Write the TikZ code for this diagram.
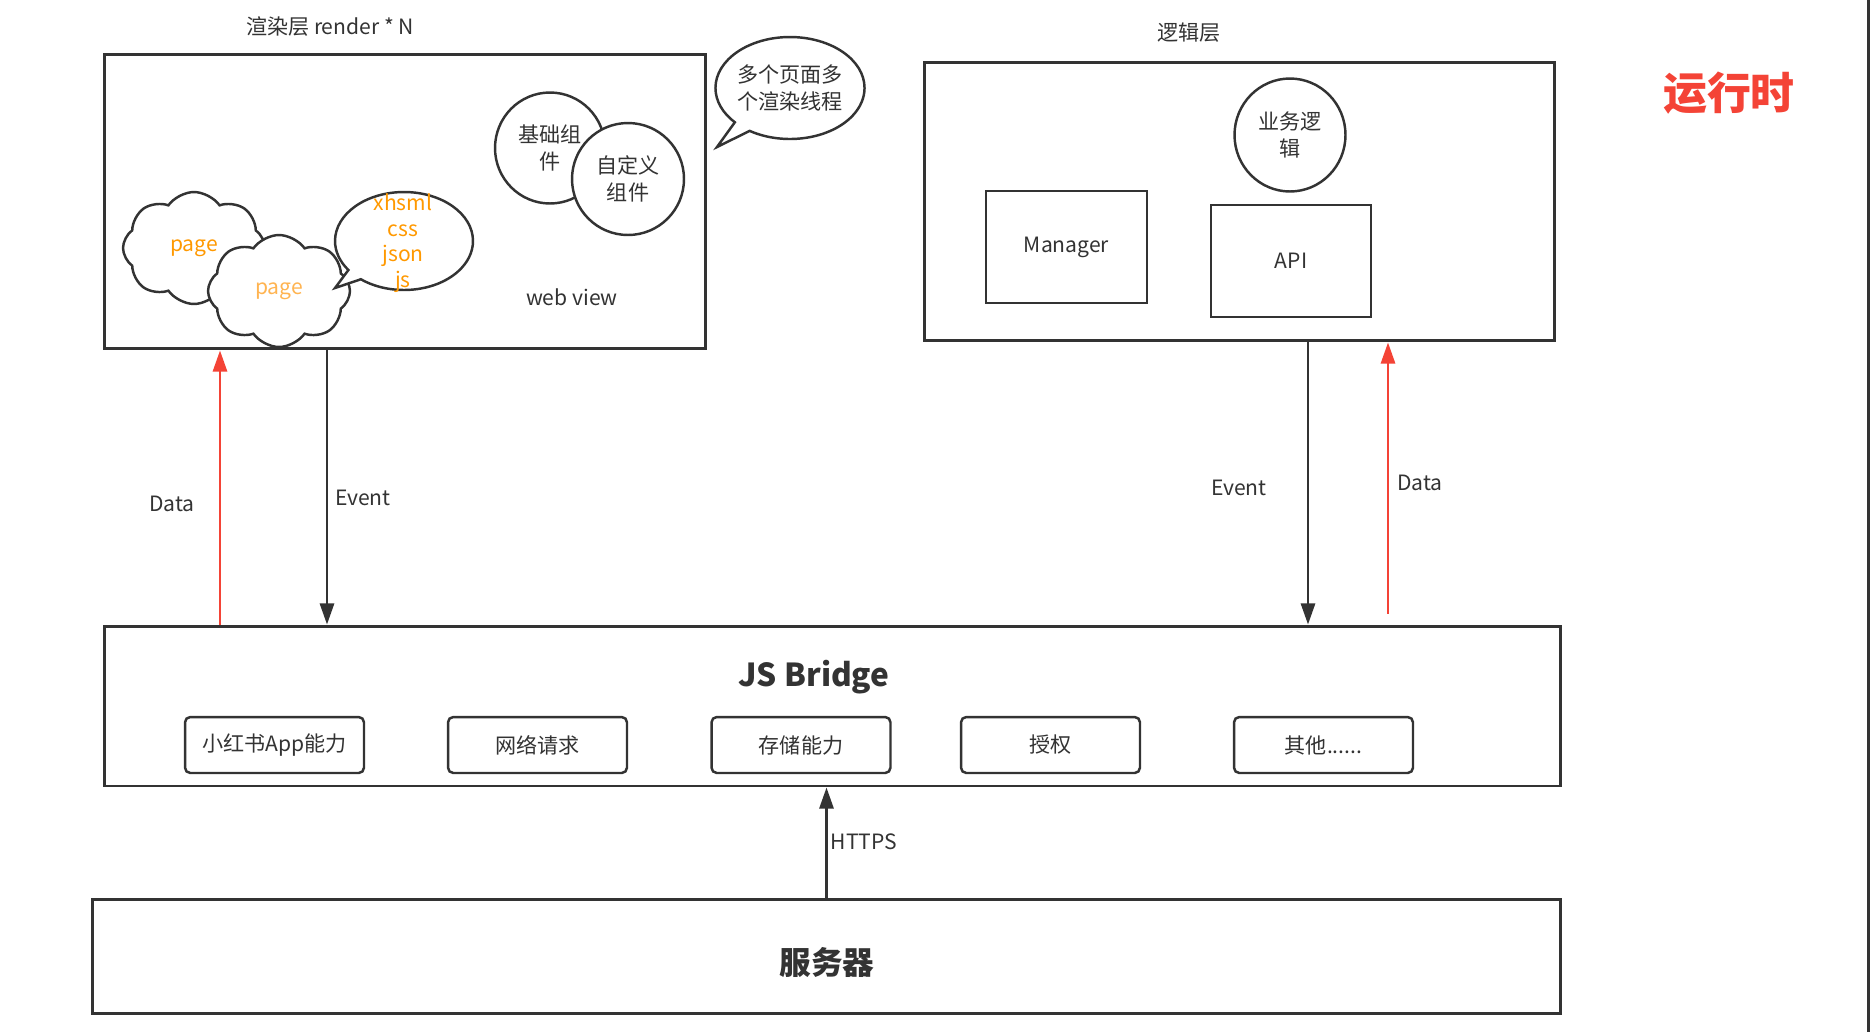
\documentclass[tikz,border=0pt]{standalone}
\usepackage{fontspec}
\setmainfont{Noto Sans CJK SC}
\usetikzlibrary{arrows.meta,shapes.geometric,shapes.symbols,shapes.callouts}
\definecolor{ink}{HTML}{333333}
\definecolor{datared}{HTML}{F44336}
\definecolor{pageorange}{HTML}{FF9900}
\definecolor{pagelight}{HTML}{FFB451}
\tikzset{
  layer/.style={draw=ink, line width=1.7pt, inner sep=0pt},
  ability/.style={draw=ink, line width=1.4pt, rounded corners=3pt,
    minimum width=3.58cm, minimum height=1.12cm},
  bubble/.style={ellipse, draw=ink, line width=1.4pt, fill=white,
    inner sep=0pt, align=center},
  pagecloud/.style={cloud, cloud puffs=8, cloud puff arc=110, draw=ink, line width=1.4pt,
    fill=white, inner sep=0pt, minimum width=2.84cm, minimum height=2.24cm},
  eventflow/.style={->, draw=ink, line width=1.5pt},
  dataflow/.style={->, draw=datared, line width=1.5pt},
}
\begin{document}
\begin{tikzpicture}[x=0.02cm, y=-0.02cm, >={Triangle[length=12pt,width=8pt]},
    font=\fontsize{12}{15.6}\selectfont, text=ink]
  \useasboundingbox (0,0) rectangle (1872,1032);
  \fill[white] (0,0) rectangle (1872,1032);
  \draw[ink, line width=1.7pt] (1868,0) -- (1868,1032);

  \node[layer, minimum width=12.04cm, minimum height=5.9cm] (render) at (405,201.5) {};
  \node[layer, minimum width=12.62cm, minimum height=5.58cm] (logic) at (1239.5,201.5) {};
  \node[layer, minimum width=29.14cm, minimum height=3.2cm] (bridge) at (832.5,706) {};
  \node[layer, minimum width=29.38cm, minimum height=2.28cm] (server) at (826.5,956) {};

  \node (renderTitle) at (330,27) {渲染层 render * N};
  \node (logicTitle) at (1189,33) {逻辑层};
  \node[text=datared, font=\fontsize{25}{30}\selectfont\bfseries] (runtime) at (1729,93) {运行时};

  \node[pagecloud, text=pageorange] (page1) at (194,248) {page};
  \node[pagecloud, text=pagelight] (page2) at (279,291) {page};
  \node[ellipse callout, draw=ink, line width=1.4pt, fill=white, inner sep=0pt,
    minimum width=2.76cm, minimum height=1.96cm,
    callout absolute pointer={(335,288)}] (files) at (404,241) {};
  \node[text=pageorange, align=center, font=\fontsize{12}{14.6}\selectfont] (filesText) at (403,243)
    {xhsml\\css\\json\\js};

  \node[bubble, minimum width=2.2cm, minimum height=2.22cm] (basic) at (550,148) {基础组\\件};
  \node[bubble, minimum width=2.24cm, minimum height=2.24cm] (custom) at (628,179) {自定义\\组件};
  \node (webview) at (572,297) {web view};

  \node[ellipse callout, draw=ink, line width=1.4pt, fill=white, inner sep=0pt,
    align=center, minimum width=2.84cm, minimum height=2.04cm,
    callout absolute pointer={(717,147)}] (threads) at (790,88) {多个页面多\\个渲染线程};

  \node[bubble, minimum width=2.22cm, minimum height=2.26cm] (service) at (1290,135) {业务逻\\辑};
  \node[layer, line width=1.4pt, minimum width=3.22cm, minimum height=2.24cm] (manager) at (1066.5,247) {Manager};
  \node[layer, line width=1.4pt, minimum width=3.2cm, minimum height=2.24cm] (api) at (1291,261) {API};

  \node[font=\fontsize{18}{22}\selectfont\bfseries] (bridgeTitle) at (814,677) {JS Bridge};
  \node[ability] (appAbility) at (274.5,745) {小红书App能力};
  \node[ability] (network) at (537.5,745) {网络请求};
  \node[ability] (storage) at (801,745) {存储能力};
  \node[ability] (auth) at (1050.5,745) {授权};
  \node[ability] (others) at (1323.5,745) {其他......};

  \node[font=\fontsize{18}{22}\selectfont\bfseries] (serverTitle) at (827,962) {服务器};

  \coordinate (dataL) at (220,0);
  \coordinate (eventL) at (327,0);
  \coordinate (eventR) at (1308,0);
  \coordinate (dataR) at (1388,0);

  \draw[dataflow] (bridge.north -| dataL) -- (render.south -| dataL);
  \draw[eventflow] (render.south -| eventL) -- (bridge.north -| eventL);
  \draw[eventflow] (logic.south -| eventR) -- (bridge.north -| eventR);
  \draw[dataflow, shorten <=6pt] (bridge.north -| dataR) -- (logic.south -| dataR);
  \draw[eventflow] (server.north) -- (bridge.south -| server.north);

  \node (dataLabelL) at (172,504) {Data};
  \node (eventLabelL) at (363,498) {Event};
  \node (eventLabelR) at (1239,488) {Event};
  \node (dataLabelR) at (1420,483) {Data};
  \node (https) at (864,842) {HTTPS};
\end{tikzpicture}
\end{document}
